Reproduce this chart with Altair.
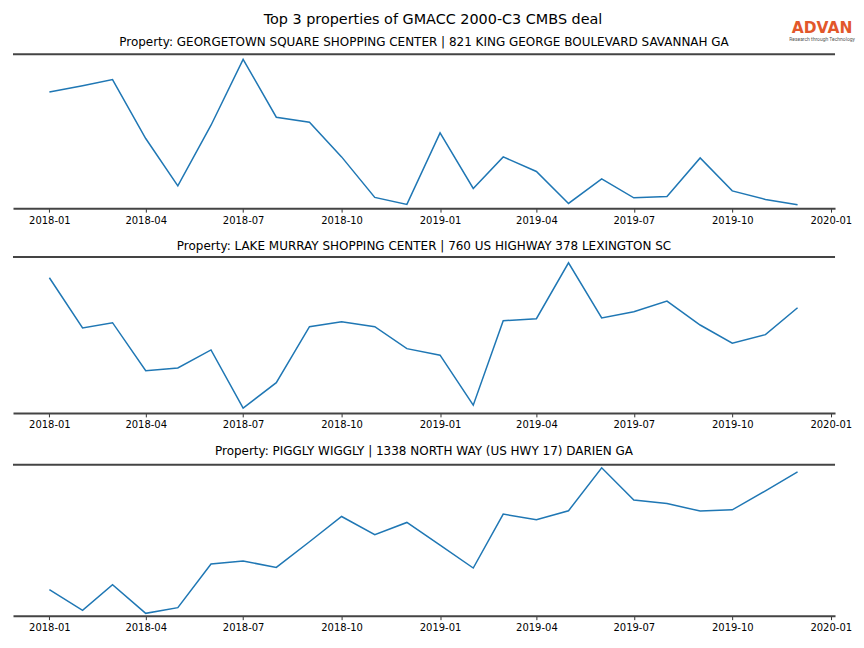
import altair as alt
import pandas as pd

months = pd.date_range("2018-01-01", "2019-12-01", freq="MS").strftime("%Y-%m-%d").tolist()

main_title = "Top 3 properties of GMACC 2000-C3 CMBS deal"
titles = [
    "Property: GEORGETOWN SQUARE SHOPPING CENTER | 821 KING GEORGE BOULEVARD SAVANNAH GA",
    "Property: LAKE MURRAY SHOPPING CENTER | 760 US HIGHWAY 378 LEXINGTON SC",
    "Property: PIGGLY WIGGLY | 1338 NORTH WAY (US HWY 17) DARIEN GA",
]
logo_text = "ADVAN"
logo_sub = "Research through Technology"

# values (arbitrary units, no y axis shown)
p1 = [116.3, 122.5, 128.7, 69.7, 22.3, 83.0, 149.0, 91.0, 86.0, 51.3, 10.7, 3.7,
      75.3, 19.7, 51.3, 36.7, 4.7, 29.3, 10.3, 11.7, 50.3, 17.3, 8.7, 3.3]
p2 = [135.3, 85.0, 90.3, 42.3, 45.0, 63.0, 4.7, 30.3, 86.3, 91.3, 86.3, 64.3,
      57.8, 7.7, 92.3, 94.3, 150.3, 95.0, 101.3, 112.0, 88.0, 69.7, 78.3, 105.3]
p3 = [26.0, 5.3, 31.0, 2.3, 8.0, 51.7, 54.7, 48.3, 74.0, 99.3, 81.0, 93.3,
      70.5, 47.7, 101.7, 96.0, 105.0, 148.0, 115.7, 112.3, 104.7, 106.0, 125.0, 144.0]
series = [p1, p2, p3]
y_tops = [154, 156, 151]
title_gaps = [12, 11, 14]

tick_dates = [(2018, 1), (2018, 4), (2018, 7), (2018, 10), (2019, 1),
              (2019, 4), (2019, 7), (2019, 10), (2020, 1)]

W = 823
FONT = "DejaVu Sans"
SPINE = "#444444"


def panel(title, vals, h, gap, first=False):
    df = pd.DataFrame({"month": months, "value": vals})
    one = pd.DataFrame({"a": [0]})
    xscale = alt.Scale(
        type="utc",
        domain=[alt.DateTime(year=2017, month=11, date=28, utc=True),
                alt.DateTime(year=2020, month=1, date=5, utc=True)],
    )
    axis = alt.Axis(
        values=[alt.DateTime(year=y, month=m, date=1, utc=True) for y, m in tick_dates],
        labelExpr="utcFormat(datum.value, '%Y-%m')", title=None, grid=False,
        labelFont=FONT, labelFontSize=10, labelColor="black",
        tickColor="#333333", tickSize=4, tickWidth=1,
        domainColor=SPINE, domainWidth=2, labelPadding=3,
    )
    line = alt.Chart(df).mark_line(color="#1f77b4", strokeWidth=1.5).encode(
        x=alt.X("month:T", scale=xscale, axis=axis),
        y=alt.Y("value:Q", scale=alt.Scale(domain=[0, h], nice=False, zero=False), axis=None),
    )
    top = alt.Chart(one).mark_rule(color=SPINE, strokeWidth=2).encode(
        x=alt.value(0), x2=alt.value(W), y=alt.value(0)
    )
    ttl = alt.Chart(one).mark_text(
        text=title, font=FONT, fontSize=12, color="black",
        align="center", baseline="middle",
    ).encode(x=alt.value(W / 2), y=alt.value(-gap))
    layers = [line, top, ttl]
    if first:
        mt = alt.Chart(one).mark_text(
            text=main_title, font=FONT, fontSize=14.4, color="black",
            align="center", baseline="middle",
        ).encode(x=alt.value(420.5), y=alt.value(-34))
        adv = alt.Chart(one).mark_text(
            text=logo_text, font=FONT, fontSize=15.5, fontWeight="bold",
            color="#e2572b", align="center", baseline="middle",
        ).encode(x=alt.value(810), y=alt.value(-26.2))
        sub = alt.Chart(one).mark_text(
            text=logo_sub, font="Roboto", fontSize=5,
            color="#555555", align="center", baseline="middle",
        ).encode(x=alt.value(810), y=alt.value(-15.3))
        layers += [mt, adv, sub]
    return alt.layer(*layers).properties(width=W, height=h)


panels = [panel(t, v, h, g, first=(i == 0))
          for i, (t, v, h, g) in enumerate(zip(titles, series, y_tops, title_gaps))]

chart = alt.vconcat(
    alt.vconcat(panels[0], panels[1], spacing=15),
    panels[2],
    spacing=15,
).properties(
    padding={"left": 4, "top": 4, "right": 0, "bottom": 0}
).configure_view(stroke=None)

chart.save("out.html", embed_options={"renderer": "svg", "actions": False})
